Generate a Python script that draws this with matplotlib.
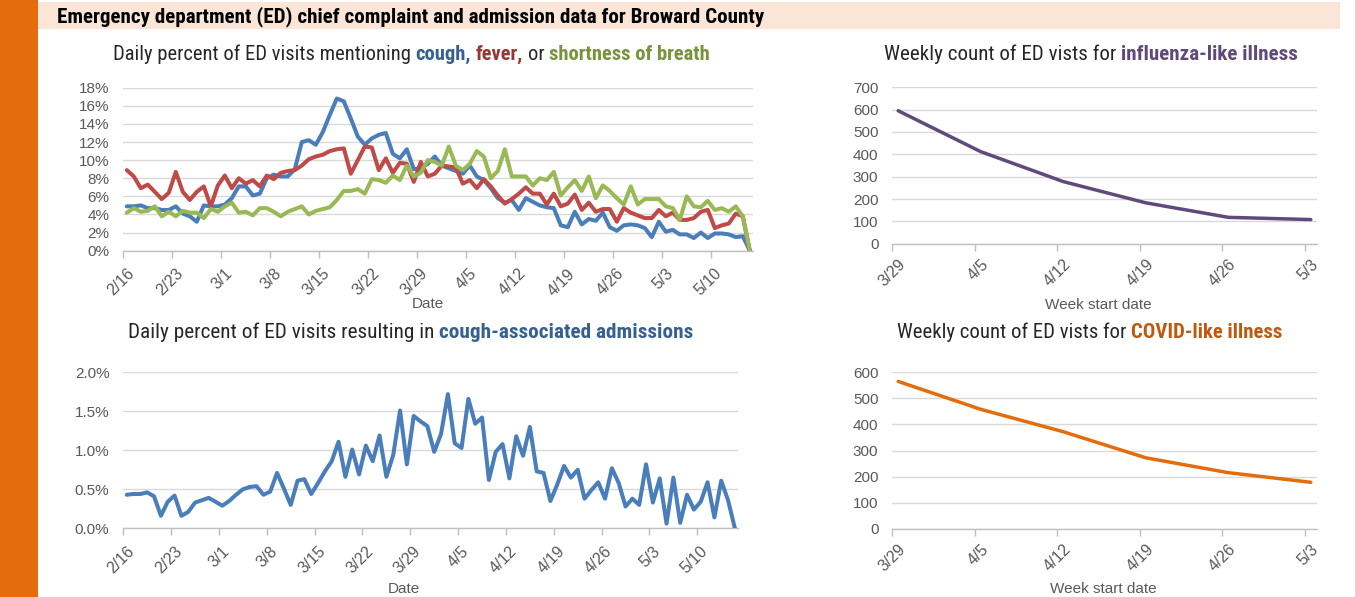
import matplotlib
matplotlib.use("Agg")
import matplotlib.pyplot as plt
from matplotlib import font_manager as fm
from matplotlib.transforms import ScaledTranslation
from matplotlib.patches import Rectangle
import numpy as np
import pandas as pd

# ---------------- data ----------------
start_date = "2020-02-16"
n_days = 90
daily_dates = pd.date_range(start_date, periods=n_days, freq="D")

daily_tick_labels = ["2/16", "2/23", "3/1", "3/8", "3/15", "3/22", "3/29",
                     "4/5", "4/12", "4/19", "4/26", "5/3", "5/10"]

cough_pct = [4.9, 4.9, 5.0, 4.7, 4.7, 4.5, 4.5, 4.9, 4.1, 3.8,
             3.2, 5.0, 4.9, 4.9, 5.1, 5.8, 7.1, 7.1, 6.1, 6.3,
             8.0, 8.4, 8.2, 8.2, 9.0, 12.0, 12.2, 11.7, 13.1, 15.0,
             16.8, 16.5, 14.6, 12.6, 11.7, 12.4, 12.8, 13.0, 10.7, 10.2,
             11.2, 9.0, 9.1, 9.6, 10.4, 9.4, 9.1, 8.8, 8.5, 9.4,
             8.2, 7.8, 6.9, 5.8, 5.3, 5.6, 4.5, 5.8, 5.4, 5.0,
             4.8, 4.7, 2.8, 2.6, 4.3, 2.9, 3.5, 3.3, 4.2, 2.6,
             2.2, 2.8, 2.9, 2.8, 2.5, 1.5, 3.2, 2.1, 2.3, 1.8,
             1.8, 1.4, 2.0, 1.4, 1.9, 1.9, 1.8, 1.5, 1.6, 0.0]

fever_pct = [8.9, 8.2, 6.9, 7.3, 6.5, 5.7, 6.4, 8.7, 6.5, 5.6,
             6.5, 7.1, 4.9, 7.2, 8.3, 6.9, 8.0, 7.4, 7.8, 7.1,
             8.3, 7.9, 8.6, 8.8, 8.9, 9.4, 10.1, 10.4, 10.6, 11.0,
             11.2, 11.3, 8.5, 10.0, 11.5, 11.4, 8.9, 10.2, 8.6, 9.7,
             9.6, 7.6, 9.8, 8.2, 8.5, 9.4, 9.3, 9.2, 7.4, 7.8,
             6.9, 7.9, 7.1, 6.1, 5.2, 5.7, 6.3, 7.0, 6.3, 6.3,
             5.1, 6.3, 4.9, 5.2, 6.2, 4.5, 5.3, 4.3, 4.6, 4.6,
             3.2, 4.7, 4.2, 3.9, 3.6, 3.6, 4.5, 3.8, 4.2, 3.4,
             3.4, 3.6, 4.3, 4.5, 2.5, 2.8, 3.0, 4.1, 3.8, 0.0]

sob_pct = [4.2, 4.7, 4.3, 4.4, 4.9, 3.8, 4.3, 3.8, 4.4, 4.2,
           4.2, 3.6, 4.6, 4.3, 4.9, 5.3, 4.2, 4.3, 3.9, 4.7,
           4.7, 4.3, 3.8, 4.3, 4.6, 4.9, 4.0, 4.4, 4.6, 4.8,
           5.6, 6.6, 6.6, 6.8, 6.3, 7.9, 7.8, 7.5, 8.3, 7.8,
           9.4, 8.2, 8.6, 10.0, 9.8, 9.4, 11.5, 9.4, 8.9, 9.6,
           11.0, 10.4, 8.0, 8.8, 11.2, 8.2, 8.2, 8.2, 7.2, 8.0,
           7.8, 8.7, 6.1, 7.0, 7.8, 6.6, 8.2, 5.8, 7.2, 6.6,
           5.8, 5.1, 7.1, 5.1, 5.7, 5.7, 5.7, 4.9, 4.7, 3.4,
           6.0, 4.9, 4.8, 5.5, 4.5, 4.7, 4.3, 4.9, 3.8, 0.0]

cough_adm_pct = [0.43, 0.44, 0.44, 0.46, 0.41, 0.16, 0.34, 0.42, 0.16, 0.21,
                 0.33, 0.36, 0.39, 0.34, 0.29, 0.35, 0.43, 0.50, 0.53, 0.54,
                 0.43, 0.47, 0.71, 0.51, 0.30, 0.61, 0.63, 0.44, 0.58, 0.73,
                 0.86, 1.11, 0.66, 1.01, 0.69, 1.06, 0.86, 1.19, 0.66, 0.94,
                 1.51, 0.82, 1.44, 1.37, 1.31, 0.98, 1.21, 1.72, 1.09, 1.03,
                 1.66, 1.34, 1.42, 0.62, 0.98, 1.08, 0.64, 1.18, 0.93, 1.30,
                 0.73, 0.71, 0.35, 0.56, 0.80, 0.65, 0.75, 0.38, 0.49, 0.59,
                 0.38, 0.77, 0.58, 0.28, 0.38, 0.30, 0.82, 0.33, 0.64, 0.06,
                 0.65, 0.07, 0.43, 0.24, 0.34, 0.59, 0.14, 0.61, 0.36, 0.00]

week_labels = ["3/29", "4/5", "4/12", "4/19", "4/26", "5/3"]
ili_counts = [595, 412, 278, 183, 118, 108]
cli_counts = [565, 458, 372, 272, 215, 178]

# ---------------- styling ----------------
W, H, DPI = 1355, 597, 100
fig = plt.figure(figsize=(W / DPI, H / DPI), dpi=DPI)
fig.patch.set_facecolor("white")

available = {f.name for f in fm.fontManager.ttflist}
def pick(cands):
    for c in cands:
        if c in available:
            return c
    return "DejaVu Sans"

TITLE_FONT = pick(["Liberation Sans Narrow", "Roboto Condensed", "Noto Sans Condensed",
                   "Open Sans Condensed", "DejaVu Sans Condensed", "Liberation Sans"])
TICK_FONT = pick(["Liberation Sans", "Noto Sans", "DejaVu Sans"])
GRAY = "#595959"
YFS = 11
XFS = 11.5

C_BLUE, C_RED, C_GREEN = "#4A7EBB", "#BE4B48", "#98B954"
T_BLUE, T_RED, T_GREEN = "#366092", "#953735", "#77933C"
C_PURPLE, T_PURPLE = "#604A7B", "#5F497A"
C_ORANGE, T_ORANGE = "#E46C0A", "#C0590F"

# background decorations
fig.patches.append(Rectangle((0, 0), 38 / W, 1, transform=fig.transFigure,
                             facecolor="#E46C0A", edgecolor="none", zorder=0))
fig.patches.append(Rectangle((38 / W, 1 - 29 / H), (1340 - 38) / W, 27 / H,
                             transform=fig.transFigure, facecolor="#FBE5D6",
                             edgecolor="none", zorder=0))


def make_ax(x0, y_top, x1, y_bot):
    return fig.add_axes([x0 / W, 1 - y_bot / H, (x1 - x0) / W, (y_bot - y_top) / H])


def style(ax, xpad):
    for s in ("top", "right", "left"):
        ax.spines[s].set_visible(False)
    ax.spines["bottom"].set_color("#BFBFBF")
    ax.spines["bottom"].set_linewidth(1.0)
    ax.grid(axis="y", color="#D9D9D9", linewidth=1.0)
    ax.set_axisbelow(True)
    ax.tick_params(axis="y", length=0, pad=10, labelsize=YFS, labelcolor=GRAY)
    ax.tick_params(axis="x", direction="out", length=5, width=1, color="#BFBFBF",
                   labelsize=XFS, labelcolor=GRAY, pad=xpad)


def set_xlabels(ax, ticks, labels, dx_px):
    ax.set_xticks(ticks)
    ax.set_xticklabels(labels, rotation=45, ha="right", va="top",
                       rotation_mode="anchor", fontsize=XFS, color=GRAY,
                       family=TICK_FONT)
    off = ScaledTranslation(dx_px / DPI, 0, fig.dpi_scale_trans)
    for lab in ax.get_xticklabels():
        lab.set_transform(lab.get_transform() + off)


renderer = fig.canvas.get_renderer()


def text_width(s, fs, weight, family):
    t = fig.text(0, 0, s, fontsize=fs, fontweight=weight, family=family)
    w = t.get_window_extent(renderer).width
    t.remove()
    return w


def rich_text(pieces, x_left, baseline_y, target_w, family=TITLE_FONT, fs0=12):
    def build(fs, draw):
        x = x_left
        for s, color, weight in pieces:
            lead = len(s) - len(s.lstrip(" "))
            core = s.strip(" ")
            trail = len(s) - len(s.rstrip(" ")) if core else 0
            sp = text_width("x x", fs, weight, family) - text_width("xx", fs, weight, family)
            x += lead * sp
            if draw:
                fig.text(x / W, 1 - baseline_y / H, core, fontsize=fs, color=color,
                         fontweight=weight, family=family, ha="left", va="baseline")
            x += text_width(core, fs, weight, family)
            x += trail * sp
        return x - x_left
    w = build(fs0, False)
    fs = fs0 * target_w / w
    build(fs, True)


# ---------------- top-left: cough / fever / SOB ----------------
days = (daily_dates - daily_dates[0]).days.values
xpos = days + 0.5
tick_pos = np.arange(0, n_days, 7)

ax1 = make_ax(123.3, 87.7, 753.3, 250.7)
style(ax1, 6)
lw = 2.9
kw = dict(solid_joinstyle="round", solid_capstyle="round", zorder=3)
ax1.plot(xpos, np.array(cough_pct) / 100, color=C_BLUE, lw=lw, **kw)
ax1.plot(xpos, np.array(fever_pct) / 100, color=C_RED, lw=lw, **kw)
ax1.plot(xpos, np.array(sob_pct) / 100, color=C_GREEN, lw=lw, **kw)
ax1.set_xlim(0, n_days)
ax1.set_ylim(0, 0.18)
yt1 = np.arange(0, 0.1801, 0.02)
ax1.set_yticks(yt1)
ax1.set_yticklabels([f"{int(round(v * 100))}%" for v in yt1], family=TICK_FONT)
set_xlabels(ax1, tick_pos, daily_tick_labels, 3)

# ---------------- bottom-left: cough admissions ----------------
ax2 = make_ax(123.3, 372.3, 738.3, 528.3)
style(ax2, 6)
ax2.plot(xpos, np.array(cough_adm_pct) / 100, color=C_BLUE, lw=lw, **kw)
ax2.set_xlim(0, n_days)
ax2.set_ylim(0, 0.02)
yt2 = np.arange(0, 0.02001, 0.005)
ax2.set_yticks(yt2)
ax2.set_yticklabels([f"{v * 100:.1f}%" for v in yt2], family=TICK_FONT)
set_xlabels(ax2, tick_pos, daily_tick_labels, 3)

# ---------------- right: weekly counts ----------------
wpos = np.arange(len(week_labels)) * 7 + 0.5
wticks = np.arange(len(week_labels)) * 7

ax3 = make_ax(892.3, 87.3, 1316.7, 243.7)
style(ax3, 4.5)
ax3.plot(wpos, ili_counts, color=C_PURPLE, lw=2.5, **kw)
ax3.set_xlim(0, 36)
ax3.set_ylim(0, 700)
ax3.set_yticks(np.arange(0, 701, 100))
ax3.set_yticklabels([str(v) for v in range(0, 701, 100)], family=TICK_FONT)
set_xlabels(ax3, wticks, week_labels, 6)

ax4 = make_ax(892.3, 372.3, 1316.7, 528.7)
style(ax4, 4.5)
ax4.plot(wpos, cli_counts, color=C_ORANGE, lw=2.5, **kw)
ax4.set_xlim(0, 36)
ax4.set_ylim(0, 600)
ax4.set_yticks(np.arange(0, 601, 100))
ax4.set_yticklabels([str(v) for v in range(0, 601, 100)], family=TICK_FONT)
set_xlabels(ax4, wticks, week_labels, 6)

# ---------------- axis titles ----------------
def ftext(x, y, s):
    fig.text(x / W, 1 - y / H, s, ha="center", va="center", color=GRAY,
             fontsize=11, family=TICK_FONT)

ftext(428, 304, "Date")
ftext(404, 589, "Date")
ftext(1098, 305, "Week start date")
ftext(1103, 589, "Week start date")

# ---------------- titles ----------------
rich_text([("Emergency department (ED) chief complaint and admission data for Broward County", "black", "bold")],
          57, 22, 708)
rich_text([("Daily percent of ED visits mentioning ", "#262626", "normal"),
           ("cough,", T_BLUE, "bold"),
           (" fever,", T_RED, "bold"),
           (" or ", "#262626", "normal"),
           ("shortness of breath", T_GREEN, "bold")],
          113, 59.5, 597)
rich_text([("Weekly count of ED vists for ", "#262626", "normal"),
           ("influenza-like illness", T_PURPLE, "bold")],
          884, 59.5, 413)
rich_text([("Daily percent of ED visits resulting in ", "#262626", "normal"),
           ("cough-associated admissions", T_BLUE, "bold")],
          128, 338, 565)
rich_text([("Weekly count of ED vists for ", "#262626", "normal"),
           ("COVID-like illness", T_ORANGE, "bold")],
          897, 338, 386)

fig.savefig("out.png", dpi=DPI)
